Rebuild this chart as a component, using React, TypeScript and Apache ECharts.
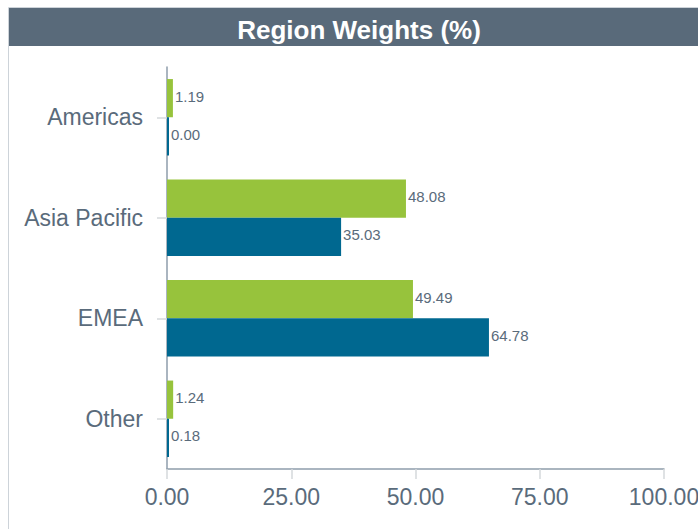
import React, { useEffect, useRef } from "react";
import * as echarts from "echarts";

const categories = ["Americas", "Asia Pacific", "EMEA", "Other"];
const fundValues = [1.19, 48.08, 49.49, 1.24];
const benchmarkValues = [0.0, 35.03, 64.78, 0.18];
const xTicks = [0, 25, 50, 75, 100];

const TEXT = "#5a6b7b";

export default function App() {
  const ref = useRef<HTMLDivElement>(null);
  useEffect(() => {
    const chart = echarts.init(ref.current!, null, { renderer: "svg" });
    const barLabel = {
      show: true,
      position: "right",
      distance: 2,
      offset: [0, -2],
      color: TEXT,
      fontSize: 15,
      formatter: (p: any) => Number(p.value).toFixed(2),
    };
    chart.setOption({
      animation: false,
      textStyle: { fontFamily: "Liberation Sans, Arial, sans-serif" },
      graphic: [
        { type: "line", shape: { x1: 8.5, y1: 7.5, x2: 698, y2: 7.5 }, style: { stroke: "#cdd3d9", lineWidth: 1 } },
        { type: "line", shape: { x1: 8.5, y1: 7.5, x2: 8.5, y2: 529 }, style: { stroke: "#cdd3d9", lineWidth: 1 } },
        { type: "rect", shape: { x: 9, y: 8, width: 689, height: 38 }, style: { fill: "#596a7a" } },
        {
          type: "text",
          x: 359,
          y: 30,
          style: {
            text: "Region Weights (%)",
            fill: "#ffffff",
            font: "bold 26px 'Liberation Sans', Arial, sans-serif",
            align: "center",
            verticalAlign: "middle",
          },
        },
      ],
      grid: { left: 167, right: 34, top: 67, bottom: 60, outerBoundsMode: "none", containLabel: false },
      xAxis: {
        type: "value",
        min: xTicks[0],
        max: xTicks[xTicks.length - 1],
        interval: 25,
        axisLine: { show: true, lineStyle: { color: "#8e9dab", width: 1.5 } },
        axisTick: { show: true, length: 10, lineStyle: { color: "#d5d8db", width: 1.5 } },
        splitLine: { show: false },
        axisLabel: {
          color: TEXT,
          fontSize: 23,
          margin: 16,
          formatter: (v: number) => v.toFixed(2),
        },
      },
      yAxis: {
        type: "category",
        data: categories,
        inverse: true,
        axisLine: { show: true, lineStyle: { color: "#8e9dab", width: 1.5 } },
        axisTick: { show: true, alignWithLabel: true, length: 10, lineStyle: { color: "#d5d8db", width: 1.5 } },
        axisLabel: { color: TEXT, fontSize: 23, margin: 24 },
      },
      series: [
        {
          name: "Fund",
          type: "bar",
          data: fundValues,
          barGap: "0%",
          barCategoryGap: "24%",
          barMinHeight: 2,
          itemStyle: { color: "#97c33c" },
          label: barLabel,
        },
        {
          name: "Benchmark",
          type: "bar",
          data: benchmarkValues,
          barGap: "0%",
          barCategoryGap: "24%",
          barMinHeight: 2,
          itemStyle: { color: "#006890" },
          label: barLabel,
        },
      ],
    });
    return () => chart.dispose();
  }, []);
  return (
    <div
      ref={ref}
      style={{ position: "fixed", left: 0, top: 0, width: 698, height: 529, background: "#ffffff" }}
    />
  );
}
